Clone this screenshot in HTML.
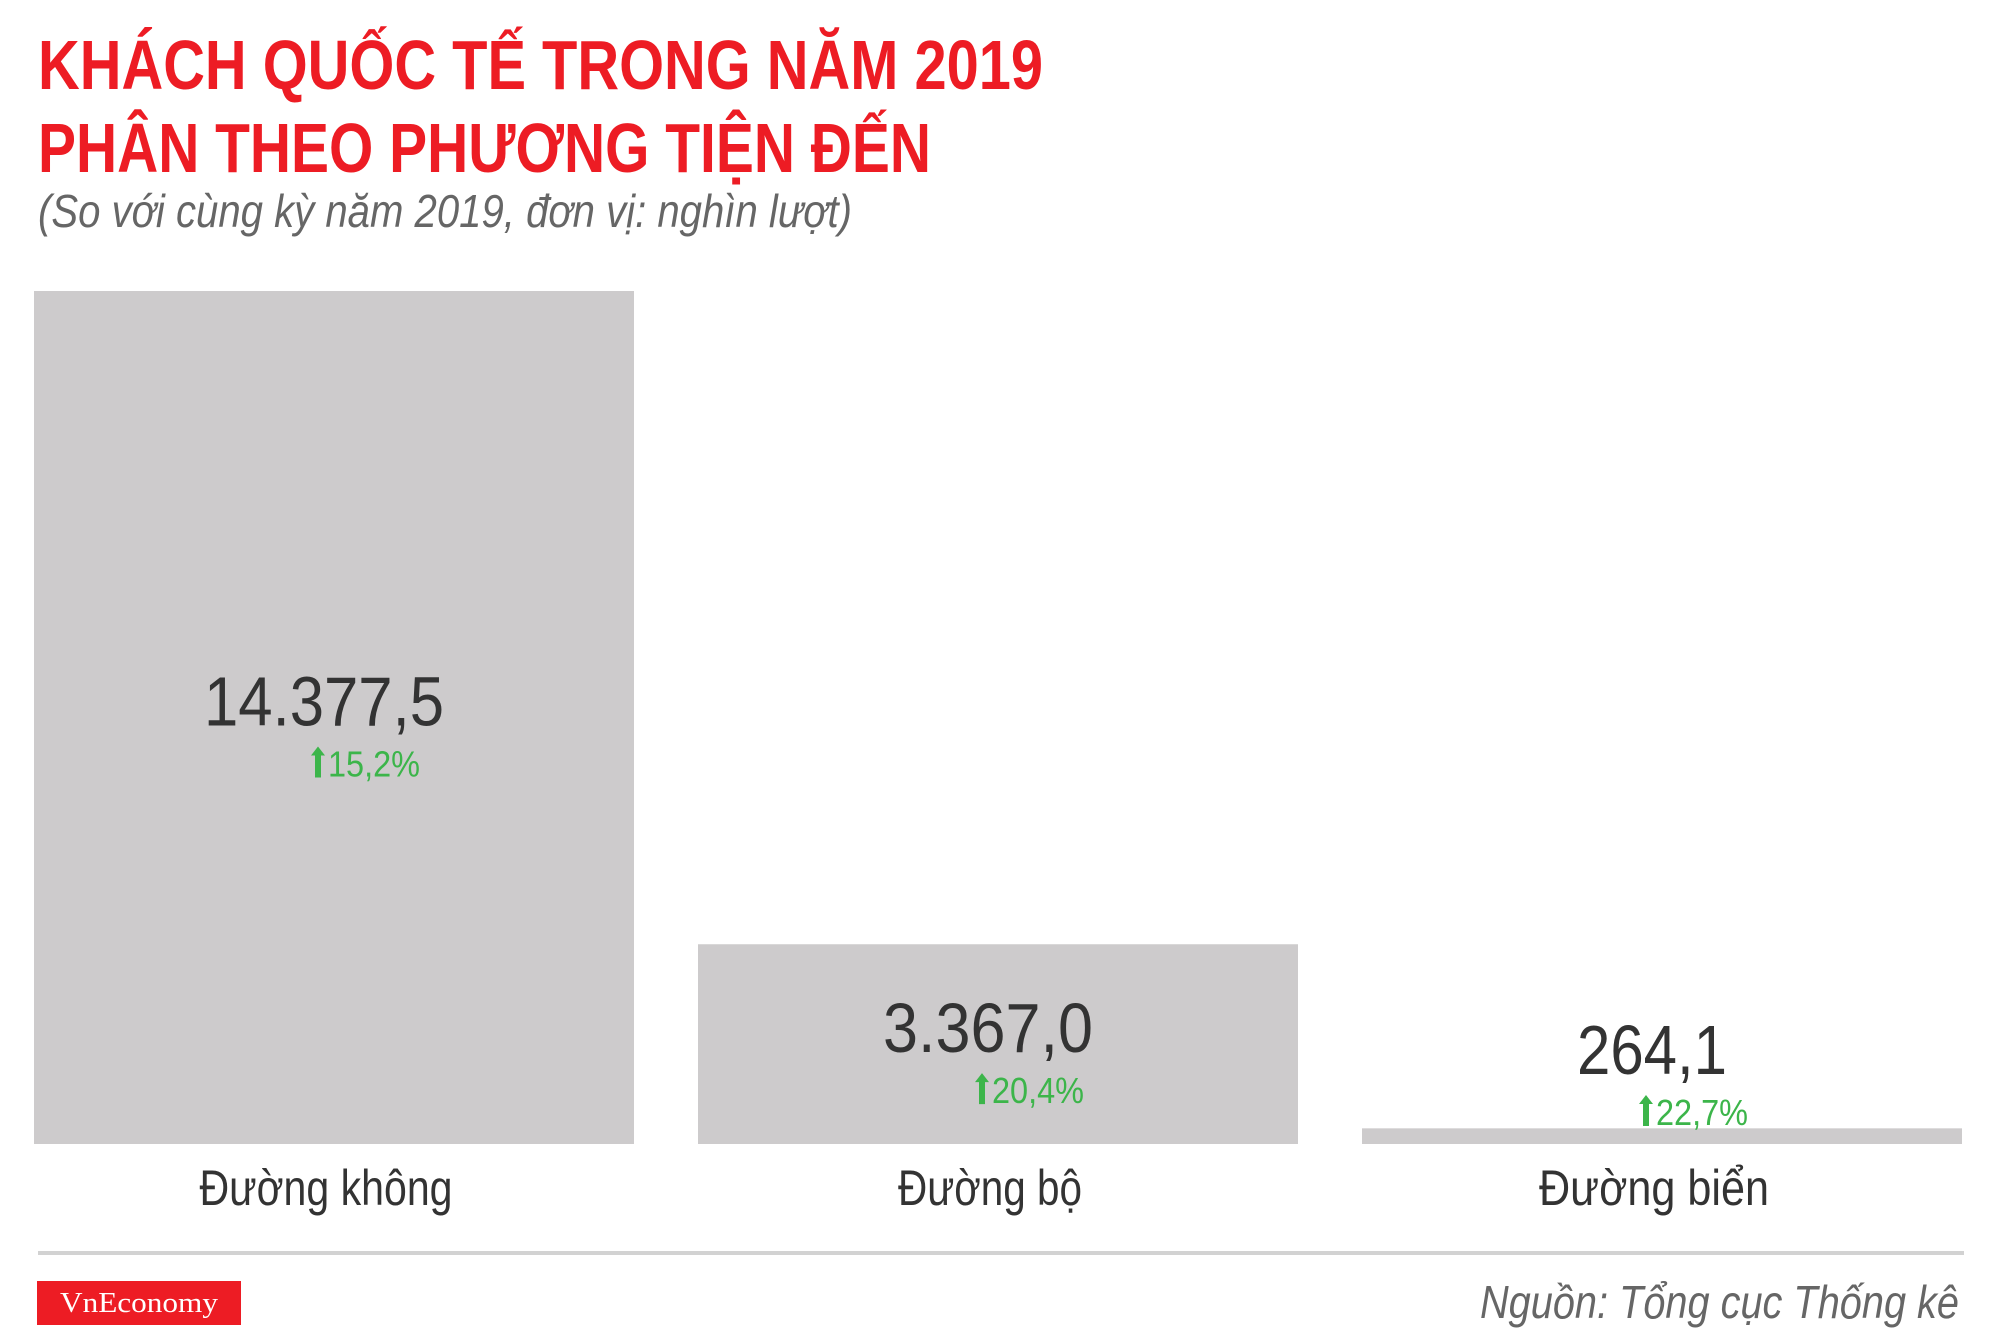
<!DOCTYPE html>
<html><head><meta charset="utf-8"><style>
html,body{margin:0;padding:0;background:#fff;}
svg{display:block;}
text{font-family:"Liberation Sans Narrow","Liberation Sans",sans-serif;}
</style></head><body>
<svg id="chart" width="2000" height="1343" viewBox="0 0 2000 1343" xmlns="http://www.w3.org/2000/svg">
<text x="38" y="89" font-size="70" font-weight="bold" fill="#ed1c24" textLength="1005" lengthAdjust="spacingAndGlyphs">KHÁCH QUỐC TẾ TRONG NĂM 2019</text>
<text x="38" y="172" font-size="70" font-weight="bold" fill="#ed1c24" textLength="893" lengthAdjust="spacingAndGlyphs">PHÂN THEO PHƯƠNG TIỆN ĐẾN</text>
<text x="38" y="227" font-size="46" font-style="italic" fill="#666" textLength="814" lengthAdjust="spacingAndGlyphs">(So với cùng kỳ năm 2019, đơn vị: nghìn lượt)</text>
<g id="bars"></g>
<rect x="38" y="1251" width="1926" height="4" fill="#d2d2d2"/>
<rect x="37" y="1281" width="204" height="44" fill="#ed1c24"/>
<text x="139" y="1312" font-size="28" fill="#fff" text-anchor="middle" style="font-family:'Liberation Serif',serif" textLength="158" lengthAdjust="spacingAndGlyphs">VnEconomy</text>
<text x="1959" y="1318" font-size="46" font-style="italic" fill="#666" text-anchor="end" textLength="479" lengthAdjust="spacingAndGlyphs">Nguồn: Tổng cục Thống kê</text>
</svg>
<script>
const categories = ["Đường không", "Đường bộ", "Đường biển"];
const values = [14377.5, 3367.0, 264.1];
const valueLabels = ["14.377,5", "3.367,0", "264,1"];
const changeLabels = ["15,2%", "20,4%", "22,7%"];

const NS = "http://www.w3.org/2000/svg";
const plotLeft = 34, baseY = 1144, plotTop = 291;
const yMax = 14377.5;
const n = categories.length;
const slot = 664;
const barW = 600;
function xScale(i){ return plotLeft + i * slot; }
function yScale(v){ return baseY - (v / yMax) * (baseY - plotTop); }
const g = document.getElementById("bars");
function mk(tag, attrs){ const e = document.createElementNS(NS, tag); for (const k in attrs) e.setAttribute(k, attrs[k]); return e; }
for (let i = 0; i < n; i++) {
  const x = xScale(i), top = Math.min(yScale(values[i]), baseY - 8), cx = x + barW / 2;
  const r = mk("rect", {x: x, y: top, width: barW, height: baseY - top, fill: "#cdcbcc"});
  
  
  g.appendChild(r);
  const ly = Math.min((top + baseY) / 2 + 8, 1074);
  const vt = mk("text", {x: cx - 10, y: ly, "font-size": 70, fill: "#333", "text-anchor": "middle", textLength: valueLabels[i].length * 30, lengthAdjust: "spacingAndGlyphs"});
  vt.textContent = valueLabels[i];
  
  
  g.appendChild(vt);
  const px = cx + 32 - 55;
  const arrow = mk("path", {d: `M${px+4} ${ly+52} L${px+4} ${ly+30} L${px} ${ly+30} L${px+7} ${ly+21} L${px+14} ${ly+30} L${px+10} ${ly+30} L${px+10} ${ly+52} Z`, fill: "#3cb54a"});
  
  
  g.appendChild(arrow);
  const pt = mk("text", {x: px + 17, y: ly + 51, "font-size": 36, fill: "#3cb54a", textLength: 92, lengthAdjust: "spacingAndGlyphs"});
  pt.textContent = changeLabels[i];
  
  
  g.appendChild(pt);
  const ct = mk("text", {x: cx - 8, y: 1205, "font-size": 50, fill: "#333", "text-anchor": "middle", textLength: categories[i].length * 23, lengthAdjust: "spacingAndGlyphs"});
  ct.textContent = categories[i];
  
  
  g.appendChild(ct);
}
</script>
</body></html>
